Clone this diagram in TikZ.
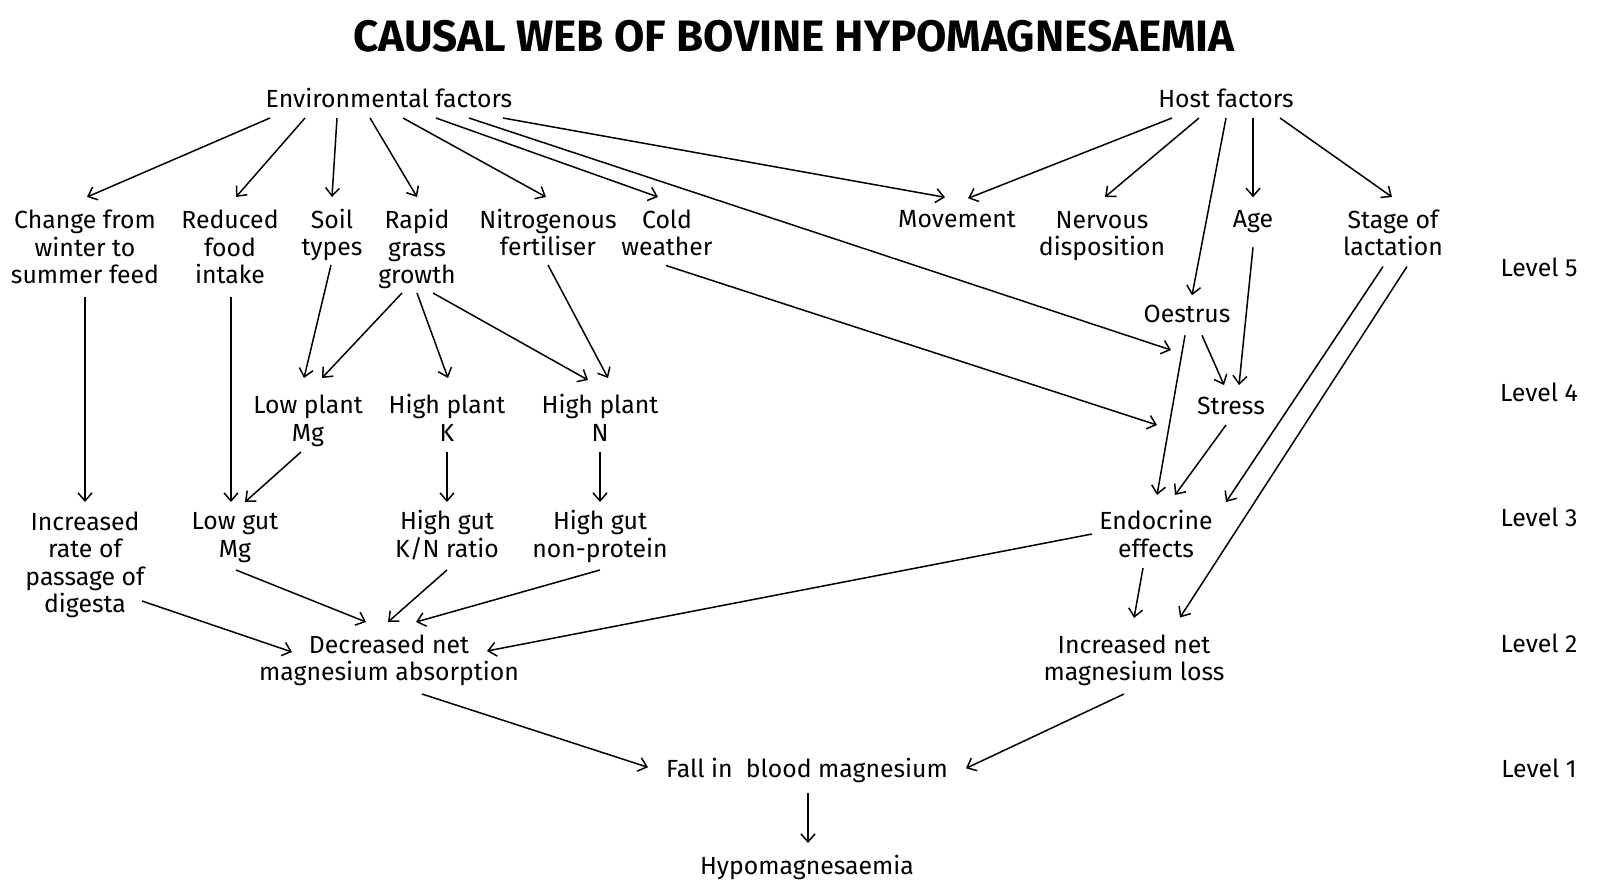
\documentclass[tikz,border=0pt]{standalone}
\usepackage{fontspec}
\setmainfont{Fira Sans}
\usetikzlibrary{arrows.meta,calc}
\newcommand{\lbltop}{\rule{0pt}{12.3pt}}
\newcommand{\lblbot}{\rule[-2.7pt]{0pt}{2.7pt}}
\newcommand{\lbltxt}[1]{\lbltop#1\lblbot}
\begin{document}
\begin{tikzpicture}[x=0.5pt,y=-0.5pt,
  lbl/.style={font=\fontsize{12.4}{13.75}\selectfont, align=center, inner sep=0pt},
  arr/.style={line width=0.75pt, -{Straight Barb[length=4pt,width=7pt]}}]
\useasboundingbox (0,0) rectangle (1600,884);
% title
\node[inner sep=0pt, font=\fontsize{22}{24}\selectfont\bfseries] (title) at (794,36) {CAUSAL WEB OF BOVINE HYPOMAGNESAEMIA};
% nodes
\node[lbl] (env) at (389,98) {\lbltxt{Environmental factors}};
\node[lbl] (host) at (1226,98) {\lbltxt{Host factors}};
\node[lbl] (chg) at (85,246.5) {\lbltxt{Change from\\winter to\\summer feed}};
\node[lbl] (red) at (230,246.5) {\lbltxt{Reduced\\food\\intake}};
\node[lbl] (soil) at (332,232.5) {\lbltxt{Soil\\types}};
\node[lbl] (rapid) at (417,246.5) {\lbltxt{Rapid\\grass\\growth}};
\node[lbl] (nitro) at (548,232.5) {\lbltxt{Nitrogenous\\fertiliser}};
\node[lbl] (cold) at (667,232.5) {\lbltxt{Cold\\weather}};
\node[lbl] (move) at (957,218.3) {\lbltxt{Movement}};
\node[lbl] (nerv) at (1102,232.5) {\lbltxt{Nervous\\disposition}};
\node[lbl] (age) at (1253,218.3) {\lbltxt{Age}};
\node[lbl] (stage) at (1393,232.5) {\lbltxt{Stage of\\lactation}};
\node[lbl] (oest) at (1187,313.3) {\lbltxt{Oestrus}};
\node[lbl] (stress) at (1231,405) {\lbltxt{Stress}};
\node[lbl] (lpmg) at (308,418) {\lbltxt{Low plant\\Mg}};
\node[lbl] (hpk) at (447,418) {\lbltxt{High plant\\K}};
\node[lbl] (hpn) at (600,418) {\lbltxt{High plant\\N}};
\node[lbl] (incr) at (85,562) {\lbltxt{Increased\\rate of\\passage of\\digesta}};
\node[lbl] (lgmg) at (235,534) {\lbltxt{Low gut\\Mg}};
\node[lbl] (hgk) at (447,534) {\lbltxt{High gut\\K/N ratio}};
\node[lbl] (hgn) at (600,534) {\lbltxt{High gut\\non-protein}};
\node[lbl] (endo) at (1156,534) {\lbltxt{Endocrine\\effects}};
\node[lbl] (decr) at (389,657.5) {\lbltxt{Decreased net\\magnesium absorption}};
\node[lbl] (incl) at (1134,657.5) {\lbltxt{Increased net\\magnesium loss}};
\node[lbl] (fall) at (807,768.3) {\lbltxt{Fall in~~blood magnesium}};
\node[lbl] (hypo) at (807,865) {\lbltxt{Hypomagnesaemia}};
\node[lbl] (l5) at (1539,266.7) {\lbltxt{Level 5}};
\node[lbl] (l4) at (1539,391.7) {\lbltxt{Level 4}};
\node[lbl] (l3) at (1539,516.7) {\lbltxt{Level 3}};
\node[lbl] (l2) at (1539,643.3) {\lbltxt{Level 2}};
\node[lbl] (l1) at (1539,768.3) {\lbltxt{Level 1}};
% environmental arrows
\draw[arr] ($(env)+(-119,20)$) -- ($(chg)+(2,-49.5)$);
\draw[arr] ($(env)+(-84,20)$) -- ($(red)+(6,-49.5)$);
\draw[arr] ($(env)+(-52,20)$) -- ($(soil)+(0,-35.5)$);
\draw[arr] ($(env)+(-19,20)$) -- ($(rapid)+(0,-49.5)$);
\draw[arr] ($(env)+(14,20)$) -- ($(nitro)+(-2,-35.5)$);
\draw[arr] ($(env)+(47,20)$) -- ($(cold)+(-9,-35.5)$);
\draw[arr] ($(env)+(80,20)$) -- ($(stress)+(-60,-55)$);
\draw[arr] ($(env)+(114,20)$) -- ($(move)+(-12,-21)$);
% host arrows
\draw[arr] ($(host)+(-54,20)$) -- ($(move)+(11,-20)$);
\draw[arr] ($(host)+(-27,20)$) -- ($(nerv)+(3,-35.5)$);
\draw[arr] ($(host)+(0,20)$) -- ($(oest)+(5,-18)$);
\draw[arr] ($(host)+(27,20)$) -- ($(age)+(0,-21)$);
\draw[arr] ($(host)+(54,20)$) -- ($(stage)+(-1,-35.5)$);
% right side
\draw[arr] ($(age)+(0,29)$) -- ($(stress)+(8,-20)$);
\draw[arr] ($(oest)+(15,22)$) -- ($(stress)+(-7,-20)$);
\draw[arr] ($(oest)+(-2,22)$) -- ($(endo)+(1,-39)$);
\draw[arr] ($(stage)+(-10,34)$) -- ($(endo)+(70,-32)$);
\draw[arr] ($(stage)+(14,34)$) -- ($(incl)+(46,-40)$);
\draw[arr] ($(stress)+(-5,20)$) -- ($(endo)+(19,-39)$);
\draw[arr] ($(cold)+(-1,33)$) -- ($(stress)+(-74,20)$);
% left side
\draw[arr] ($(chg)+(0,50.5)$) -- ($(incr)+(0,-60)$);
\draw[arr] ($(red)+(1,50.5)$) -- ($(lgmg)+(-4,-32)$);
\draw[arr] ($(soil)+(-1,32.5)$) -- ($(lpmg)+(-4,-40)$);
\draw[arr] ($(rapid)+(-15,46.5)$) -- ($(lpmg)+(14,-40)$);
\draw[arr] ($(rapid)+(0,46.5)$) -- ($(hpk)+(1,-40)$);
\draw[arr] ($(rapid)+(16,46.5)$) -- ($(hpn)+(-12,-38)$);
\draw[arr] ($(nitro)+(0,32.5)$) -- ($(hpn)+(8,-40)$);
\draw[arr] ($(lpmg)+(-7,34)$) -- ($(lgmg)+(10,-32)$);
\draw[arr] ($(hpk)+(0,34)$) -- ($(hgk)+(0,-32)$);
\draw[arr] ($(hpn)+(0,34)$) -- ($(hgn)+(0,-32)$);
\draw[arr] ($(lgmg)+(1,36)$) -- ($(decr)+(-23,-35.5)$);
\draw[arr] ($(hgk)+(0,36)$) -- ($(decr)+(-1,-35.5)$);
\draw[arr] ($(hgn)+(0,36)$) -- ($(decr)+(27,-35.5)$);
\draw[arr] ($(incr)+(57,39)$) -- ($(decr)+(-97,-5.5)$);
\draw[arr] ($(endo)+(-64,0)$) -- ($(decr)+(98,-6.5)$);
% bottom
\draw[arr] ($(decr)+(33,36.5)$) -- ($(fall)+(-159,-1)$);
\draw[arr] ($(endo)+(-13,34)$) -- ($(incl)+(0,-39.5)$);
\draw[arr] ($(incl)+(-10,36.5)$) -- ($(fall)+(159,0)$);
\draw[arr] ($(fall)+(1,25)$) -- ($(hypo)+(1,-22)$);
\end{tikzpicture}
\end{document}
